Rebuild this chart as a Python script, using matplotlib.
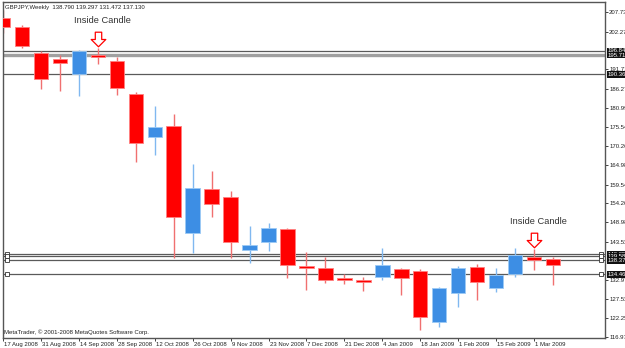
import numpy as np
import matplotlib
matplotlib.use('Agg')
from matplotlib import pyplot as plt
from matplotlib.path import Path
import matplotlib.transforms as mtransforms

# weekly GBPJPY candles
dates = ['17 Aug 2008', '31 Aug 2008', '14 Sep 2008', '28 Sep 2008', '12 Oct 2008',
         '26 Oct 2008', '9 Nov 2008', '23 Nov 2008', '7 Dec 2008', '21 Dec 2008',
         '4 Jan 2009', '18 Jan 2009', '1 Feb 2009', '15 Feb 2009', '1 Mar 2009']
opens  = [206.05, 203.54, 196.28, 194.60, 190.41, 195.70, 194.05, 184.83, 172.80, 175.90,
          146.00, 158.30, 156.06, 141.30, 143.50, 147.10, 136.50, 136.20, 133.40, 132.90,
          133.70, 135.97, 135.40, 121.15, 129.25, 136.50, 130.60, 134.55, 139.30, 138.790]
highs  = [208.30, 204.10, 196.84, 195.70, 197.10, 197.60, 195.20, 185.40, 181.50, 179.20,
          165.30, 163.30, 157.70, 147.96, 148.80, 147.40, 140.70, 139.30, 134.50, 133.70,
          141.80, 136.20, 135.96, 130.80, 136.80, 137.40, 136.20, 141.80, 141.50, 139.297]
lows   = [201.90, 197.70, 186.22, 185.70, 184.30, 193.20, 184.55, 165.80, 167.80, 139.00,
          140.40, 150.50, 139.00, 137.60, 141.00, 133.40, 130.10, 132.00, 131.70, 129.80,
          132.90, 128.70, 118.90, 119.75, 125.30, 127.30, 129.50, 133.70, 135.70, 131.472]
closes = [203.54, 198.23, 189.02, 193.50, 196.84, 195.20, 186.50, 171.14, 175.60, 150.50,
          158.60, 154.10, 143.50, 142.70, 147.40, 137.10, 136.20, 132.90, 132.90, 132.30,
          137.10, 133.40, 122.60, 130.60, 136.20, 132.30, 134.30, 139.86, 138.40, 137.130]

levels      = [196.840, 195.710, 190.364, 140.050, 139.580, 138.370, 134.463]
level_names = ['196.840', '195.711', '190.364', '140.050', '139.580', '138.370', '134.463']
yticks = [207.730, 202.275, 191.715, 186.270, 180.990, 175.545, 170.265, 164.985,
          159.540, 154.260, 148.980, 143.535, 132.970, 127.530, 122.250, 116.970]
inside = [5, 28]

plt.rcParams['font.family'] = ['Liberation Sans', 'DejaVu Sans']

fig = plt.figure(figsize=(6.25, 3.48), dpi=100)
ax = fig.add_axes([3/625, 10/348, 602/625, 336/348])

x = np.arange(len(opens))
o = np.array(opens); h = np.array(highs); l = np.array(lows); c = np.array(closes)
up = c > o
red = '#ff0000'
blue = '#3d8ee4'

#mechas
ax.vlines(x[~up], l[~up], h[~up], color='#f07070', lw=1, zorder=2)
ax.vlines(x[up], l[up], h[up], color='#80b8f0', lw=1, zorder=2)

#cuerpos
bh = np.abs(c - o)
bh = np.maximum(bh, 0.45)
bot = np.minimum(o, c)
ax.bar(x[~up], bh[~up], 0.76, bot[~up], color=red, edgecolor='#ff8080', lw=0.6, zorder=3)
ax.bar(x[up], bh[up], 0.76, bot[up], color=blue, edgecolor='#9ccaf5', lw=0.6, zorder=3)

#niveles
for i, v in enumerate(levels):
    if i == 1:
        ax.axhline(v, color='#a0a0a0', lw=2.4, zorder=1)
    else:
        ax.axhline(v, color='#5a5a5a', lw=0.9, zorder=1)
    if i >= 3:
        ax.plot([0.007, 0.993], [v, v], 's', ms=2.5, mfc='white', mec='#333333', mew=0.6,
                transform=ax.get_yaxis_transform(), clip_on=False, zorder=4)
    ax.text(1.004, v, level_names[i], transform=ax.get_yaxis_transform(), fontsize=4.3,
            color='white', va='center', ha='left',
            bbox=dict(boxstyle='square,pad=0.15', fc='#111111', ec='none'), zorder=5)

#flechas "Inside Candle"
verts = [(-0.22, 0.5), (0.22, 0.5), (0.22, 0.0), (0.5, 0.0), (0.0, -0.5), (-0.5, 0.0), (-0.22, 0.0), (-0.22, 0.5)]
arrow = Path(verts, [Path.MOVETO] + [Path.LINETO] * 6 + [Path.CLOSEPOLY])
for i in inside:
    ax.plot(x[i], h[i] + 2.6, marker=arrow, ms=10.5, mfc='white', mec=red, mew=0.9, zorder=5)
    ax.annotate('Inside Candle', xy=(x[i], h[i]), xytext=(3, 20), textcoords='offset points',
                ha='center', va='center', fontsize=6.7, color='#333333')

ax.set_xlim(0.053, 31.74)
ax.set_ylim(116.68, 210.52)

ax.yaxis.tick_right()
ax.set_yticks(yticks)
ax.set_yticklabels(['%.3f' % v for v in yticks])
ax.tick_params(axis='y', length=2, width=0.6, pad=1, labelsize=4.3, colors='#222222')

ax.set_xticks(x[::2])
ax.set_xticklabels(dates)
ax.tick_params(axis='x', length=2, width=0.6, pad=1, labelsize=4.3, colors='#222222')
plt.setp(ax.get_xticklabels(), ha='left')
for lab in ax.get_xticklabels():
    lab.set_transform(lab.get_transform() + mtransforms.ScaledTranslation(1/100, 0, fig.dpi_scale_trans))

for s in ax.spines.values():
    s.set_color('#555555')
    s.set_linewidth(1)

ax.text(0.003, 0.99, 'GBPJPY,Weekly  138.790 139.297 131.472 137.130', transform=ax.transAxes,
        fontsize=4.3, color='#222222', ha='left', va='top')
ax.text(0.002, 0.008, 'MetaTrader, \u00a9 2001-2008 MetaQuotes Software Corp.', transform=ax.transAxes,
        fontsize=4.3, color='#222222', ha='left', va='bottom')

plt.savefig('out.png', dpi=100)
